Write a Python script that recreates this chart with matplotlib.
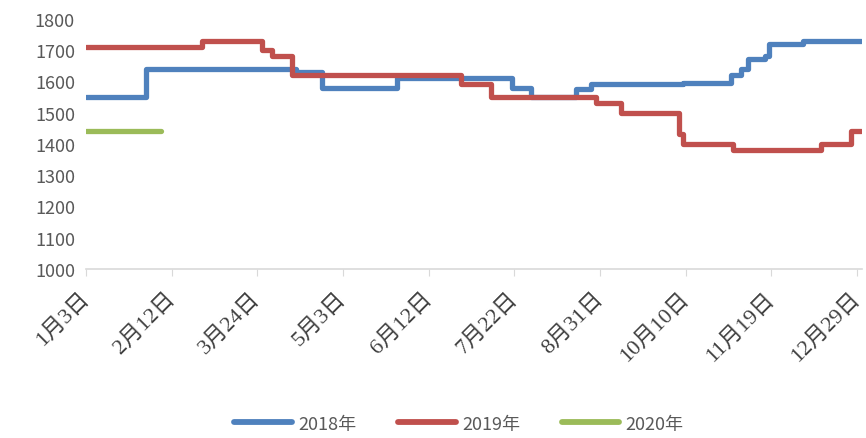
import datetime
import matplotlib
matplotlib.use("Agg")
import matplotlib.pyplot as plt

plt.rcParams['font.family'] = ['Noto Sans CJK SC', 'DejaVu Sans']

# change dates (month, day) and price level from that day on
dates_2018 = ["01-03", "01-31", "04-11", "04-23", "05-28", "07-21", "07-30", "08-20",
              "08-27", "10-09", "10-31", "11-05", "11-08", "11-16", "11-18", "12-04", "12-31"]
vals_2018 = [1550, 1640, 1630, 1580, 1610, 1580, 1550, 1575,
             1590, 1595, 1620, 1640, 1670, 1680, 1720, 1730, 1730]

dates_2019 = ["01-03", "02-26", "03-26", "03-31", "04-09", "06-27", "07-11", "08-29",
              "09-10", "10-07", "10-09", "11-01", "12-12", "12-26", "12-31"]
vals_2019 = [1710, 1730, 1700, 1680, 1620, 1590, 1550, 1530,
             1500, 1430, 1400, 1380, 1400, 1440, 1440]

dates_2020 = ["01-03", "02-07"]
vals_2020 = [1440, 1440]

labels = ["2018年", "2019年", "2020年"]
colors = ["#4F81BD", "#C0504D", "#9BBB59"]


def to_dt(ds):
    return [datetime.datetime.strptime("2018-" + d, "%Y-%m-%d") for d in ds]


fig = plt.figure(figsize=(8.66, 4.39), dpi=100)
ax = fig.add_axes([0.0993, 0.385, 0.896, 0.57])

for ds, vs, lab, c in zip([dates_2018, dates_2019, dates_2020],
                          [vals_2018, vals_2019, vals_2020], labels, colors):
    ax.plot(to_dt(ds), vs, drawstyle="steps-post", color=c, lw=3.8,
            label=lab, solid_capstyle="round", solid_joinstyle="round")

start = datetime.datetime(2018, 1, 3)
ticks = [start + datetime.timedelta(days=40 * i) for i in range(10)]
ax.set_xticks(ticks)
ax.set_xticklabels([f"{t.month}月{t.day}日" for t in ticks], rotation=45,
                   ha="right", va="center", rotation_mode="anchor",
                   fontsize=16, color="#404040",
                   family=['Liberation Serif', 'Noto Sans CJK SC'])
ax.set_xlim(start, datetime.datetime(2018, 12, 31, 8))
ax.set_ylim(1000, 1800)
ax.set_yticks(range(1000, 1801, 100))
ax.tick_params(axis="y", length=0, labelsize=13, labelcolor="#595959", pad=8)
ax.tick_params(axis="x", length=5, color="#D9D9D9", pad=14)

for s in ["top", "right", "left"]:
    ax.spines[s].set_visible(False)
ax.spines["bottom"].set_color("#D9D9D9")
ax.spines["bottom"].set_linewidth(1.2)

leg = fig.legend(loc="lower center", bbox_to_anchor=(0.53, -0.025), ncol=3,
                 frameon=False, fontsize=13, handlelength=3.2,
                 columnspacing=2.3, handletextpad=0.35)
for t in leg.get_texts():
    t.set_color("#595959")
for h in leg.get_lines():
    h.set_linewidth(4.2)

fig.savefig("out.png", dpi=100)
